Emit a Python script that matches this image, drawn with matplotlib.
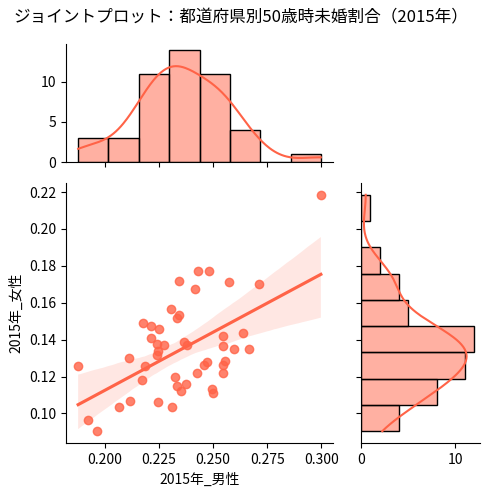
"""Joint plot: unmarried rate at age 50 by prefecture (2015), male vs female."""
import matplotlib
matplotlib.use("Agg")
import matplotlib.pyplot as plt
import numpy as np
import pandas as pd
import seaborn as sns

plt.rcParams['font.family'] = ['Noto Sans CJK JP', 'DejaVu Sans']

male = [0.2998, 0.1877, 0.1923, 0.1962, 0.2066, 0.2118, 0.2112, 0.2173, 0.2186,
        0.2177, 0.2215, 0.2250, 0.2213, 0.2241, 0.2275, 0.2244, 0.2241, 0.2246,
        0.2312, 0.2305, 0.2333, 0.2341, 0.2341, 0.2324, 0.2333, 0.2351, 0.2373,
        0.2364, 0.2379, 0.2417, 0.2430, 0.2483, 0.2428, 0.2456, 0.2471, 0.2493,
        0.2502, 0.2545, 0.2548, 0.2554, 0.2545, 0.2548, 0.2572, 0.2599, 0.2640,
        0.2665, 0.2714]
female = [0.2185, 0.1258, 0.0967, 0.0904, 0.1033, 0.1067, 0.1300, 0.1180, 0.1258,
          0.1491, 0.1476, 0.1460, 0.1409, 0.1378, 0.1373, 0.1336, 0.1318, 0.1060,
          0.1033, 0.1564, 0.1518, 0.1531, 0.1716, 0.1196, 0.1149, 0.1120, 0.1160,
          0.1385, 0.1373, 0.1673, 0.1771, 0.1771, 0.1218, 0.1264, 0.1280, 0.1135,
          0.1109, 0.1218, 0.1262, 0.1285, 0.1365, 0.1422, 0.1715, 0.1349, 0.1436,
          0.1349, 0.1704]

df = pd.DataFrame({"2015年_男性": male, "2015年_女性": female})
color = "tomato"

W, H = 490, 494
fig = plt.figure(figsize=(W / 100, H / 100), dpi=100)
ax = fig.add_axes([66 / W, 1 - 443 / H, 267 / W, 260 / H])
ax_top = fig.add_axes([66 / W, 1 - 162 / H, 267 / W, 118 / H], sharex=ax)
ax_right = fig.add_axes([361 / W, 1 - 443 / H, 119 / W, 260 / H], sharey=ax)

sns.regplot(data=df, x="2015年_男性", y="2015年_女性", ax=ax, color=color, seed=0)
sns.histplot(data=df, x="2015年_男性", bins=8, kde=True, ax=ax_top,
             color=color, edgecolor="black", alpha=0.5)
sns.histplot(data=df, y="2015年_女性", bins=9, kde=True, ax=ax_right,
             color=color, edgecolor="black", alpha=0.5)

ax_top.set_xlabel(""); ax_top.set_ylabel("")
ax_right.set_xlabel(""); ax_right.set_ylabel("")
plt.setp(ax_top.get_xticklabels(), visible=False)
plt.setp(ax_right.get_yticklabels(), visible=False)
ax_top.set_yticks([0, 5, 10])
ax_right.set_xticks([0, 10])
ax.set_xticks([0.200, 0.225, 0.250, 0.275, 0.300])
ax.xaxis.set_major_formatter(matplotlib.ticker.FormatStrFormatter("%.3f"))
ax.set_yticks(np.arange(0.10, 0.221, 0.02))
ax.yaxis.set_major_formatter(matplotlib.ticker.FormatStrFormatter("%.2f"))

for a in (ax, ax_top, ax_right):
    sns.despine(ax=a)

fig.suptitle("ジョイントプロット：都道府県別50歳時未婚割合（2015年）",
             fontsize=12, x=0.492, y=0.98)
fig.savefig("out.png", dpi=100)
